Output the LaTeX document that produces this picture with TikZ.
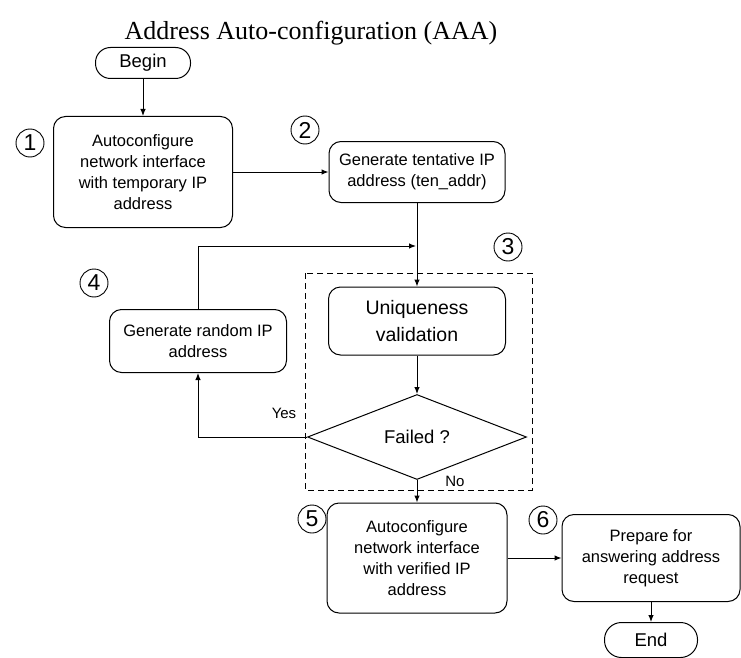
\documentclass[tikz,border=0pt]{standalone}
\usepackage{fontspec}
\setmainfont{Liberation Serif}
\newfontfamily\sansf{Liberation Sans}
\usetikzlibrary{arrows.meta,shapes.geometric}

\tikzstyle{fleche}=[-{Latex[length=7pt,width=5.5pt]},line width=1pt]
\tikzstyle{boite}=[draw,line width=1pt,rounded corners=12pt,align=center,inner sep=0pt,font=\sansf\fontsize{16.5}{21}\selectfont]
\tikzstyle{terme}=[boite,rounded corners=15pt,font=\sansf\fontsize{18.5}{22}\selectfont]
\tikzstyle{numero}=[draw,circle,line width=0.9pt,minimum size=28pt,inner sep=0pt,font=\sansf\fontsize{23}{23}\selectfont]
\tikzstyle{etiquette}=[font=\sansf\fontsize{15}{18}\selectfont]

\begin{document}
\begin{tikzpicture}[x=1pt,y=-1pt]
\useasboundingbox (0,0) rectangle (741,658);
\node[font=\fontsize{26}{28}\selectfont] (titre) at (311,33) {Address Auto-configuration (AAA)};
\node[terme,minimum width=95pt,minimum height=31pt] (debut) at (143,63) {Begin};
\node[boite,minimum width=179pt,minimum height=111pt] (b1) at (143,172) {Autoconfigure\\network interface\\with temporary IP\\address};
\node[boite,minimum width=176pt,minimum height=61pt] (b2) at (417,172) {Generate tentative IP\\address (ten\_addr)};
\node[boite,minimum width=177pt,minimum height=68pt,font=\sansf\fontsize{19.5}{27}\selectfont] (valid) at (417,321) {Uniqueness\\validation};
\node[diamond,draw,line width=1pt,minimum width=219pt,minimum height=85pt,inner sep=0pt,font=\sansf\fontsize{18.5}{22}\selectfont] (echec) at (417,437) {Failed ?};
\node[boite,minimum width=177pt,minimum height=63pt] (alea) at (198,341) {Generate random IP\\address};
\node[boite,minimum width=180pt,minimum height=110pt] (b5) at (417,558) {Autoconfigure\\network interface\\with verified IP\\address};
\node[boite,minimum width=178pt,minimum height=87pt] (b6) at (651,558) {Prepare for\\answering address\\request};
\node[terme,rounded corners=17pt,minimum width=93pt,minimum height=35pt] (fin) at (651,640) {End};
%
\draw[line width=0.9pt,dash pattern=on 6pt off 4pt] (305,273) rectangle (532,490);
\foreach \n/\x/\y in {1/30/143,2/305/130,3/508/247,4/94/283,5/312/519,6/543/520}
  \node[numero] (n\n) at (\x,\y) {\n};
%
\draw[fleche] (debut) -- (b1);
\draw[fleche] (b1) -- (b2);
\draw[fleche] (b2) -- (valid);
\coordinate (retour) at (416,246);
\draw[fleche] (alea.north) |- (retour);
\draw[fleche] (valid) -- (echec);
\draw[fleche] (echec.west) -| (alea.south);
\node[etiquette] (oui) at (284,413) {Yes};
\draw[fleche] (echec.south) -- (b5);
\node[etiquette] (non) at (455,481) {No};
\draw[fleche] (b5) -- (b6);
\draw[fleche] (b6) -- (fin);
\end{tikzpicture}
\end{document}
